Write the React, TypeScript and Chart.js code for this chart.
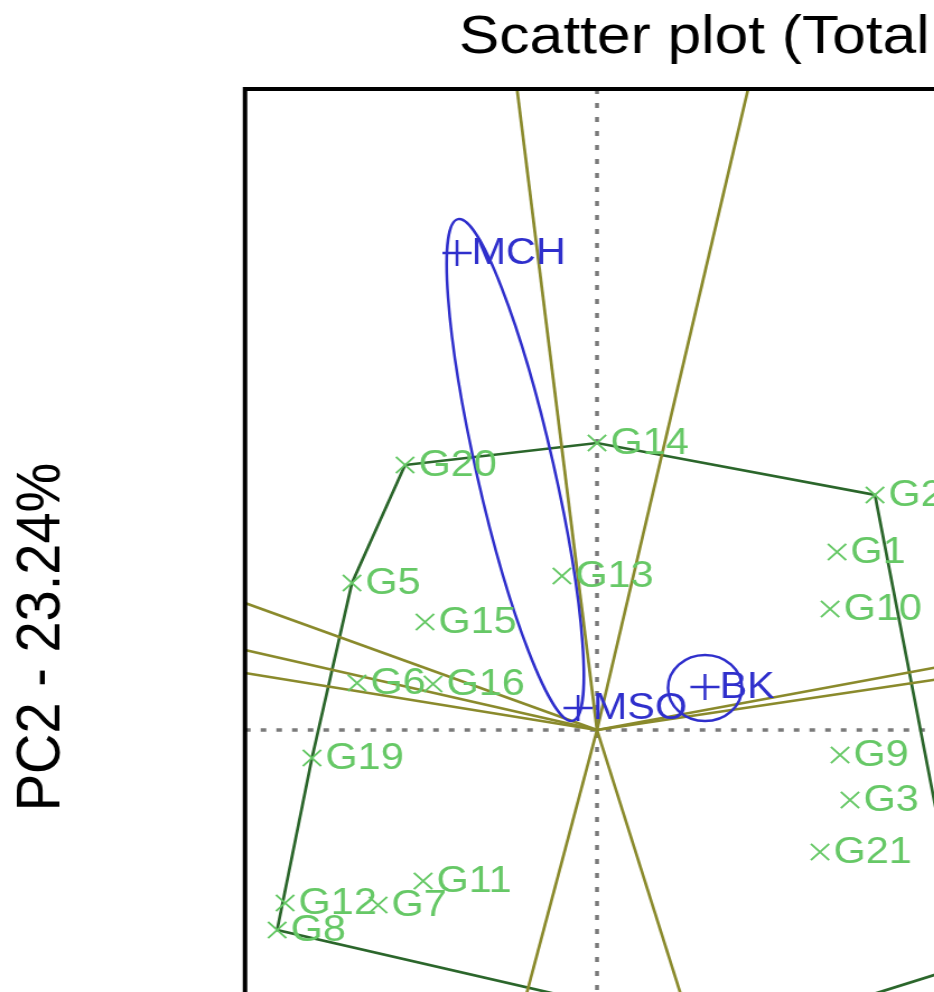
import React, { useEffect, useRef } from "react";
import { Chart, registerables } from "chart.js";

Chart.register(...registerables);

// ---------- data (biplot scores) ----------
const TITLE = "Scatter plot (Total - 77.23%)";
const Y_TITLE = "PC2 - 23.24%";

const X_MIN = -3.143;
const X_MAX = 9.56;
const Y_MIN = -4.55;
const Y_MAX = 6.41;

const GENOTYPES = ["G1", "G2", "G3", "G4", "G5", "G6", "G7", "G8", "G9", "G10", "G11", "G12", "G13", "G14", "G15", "G16", "G18", "G19", "G20", "G21"];
const GEN_PC1 = [2.143, 2.482, 2.259, 3.295, -2.188, -2.143, -1.955, -2.856, 2.17, 2.081, -1.553, -2.785, -0.313, 0.0, -1.536, -1.464, 1.268, -2.545, -1.714, 1.991];
const GEN_PC2 = [1.78, 2.35, -0.7, -2.35, 1.47, 0.47, -1.75, -2.0, -0.25, 1.21, -1.51, -1.73, 1.54, 2.87, 1.08, 0.46, -3.06, -0.28, 2.65, -1.22];

const ENVIRONMENTS = ["MCH", "MSO", "BK"];
const ENV_PC1 = [-1.25, -0.169, 0.964];
const ENV_PC2 = [4.77, 0.22, 0.43];

// ellipses around environments: centre, semi-axes, angle (deg)
const ELL_CX = [-0.73, 0.964];
const ELL_CY = [2.6, 0.42];
const ELL_A = [2.56, 0.33];
const ELL_B = [0.345, 0.33];
const ELL_ANGLE = [-78.5, 0];

// polygon (convex hull) vertices, by genotype
const HULL = ["G20", "G14", "G2", "G4", "G18", "G8", "G19", "G5"];

// rays from origin perpendicular to hull sides (end points)
const RAY_X = [-0.714, 1.349, -3.143, -3.143, -3.143, 6.0, 6.0, -1.085, 1.287];
const RAY_Y = [6.41, 6.41, 1.27, 0.8, 0.57, 1.24, 1.0, -4.55, -4.55];

// ---------- styles ----------
const FONT = "'Liberation Sans', Arial, Helvetica, sans-serif";
const GEN_COLOR = "#66c866";
const ENV_COLOR = "#2f2fcc";
const HULL_COLOR = "#2b662b";
const RAY_COLOR = "#8a8a2c";
const AXIS_COLOR = "#7a7a7a";

export default function App() {
  const ref = useRef<HTMLCanvasElement | null>(null);

  useEffect(() => {
    const canvas = ref.current;
    if (!canvas) return;

    const genPts = GENOTYPES.map((_, i) => ({ x: GEN_PC1[i], y: GEN_PC2[i] }));
    const envPts = ENVIRONMENTS.map((_, i) => ({ x: ENV_PC1[i], y: ENV_PC2[i] }));
    const hullPts = [...HULL, HULL[0]].map((g) => {
      const i = GENOTYPES.indexOf(g);
      return { x: GEN_PC1[i], y: GEN_PC2[i] };
    });

    const rayDatasets = RAY_X.map((x, i) => ({
      type: "scatter" as const,
      data: [{ x: 0, y: 0 }, { x, y: RAY_Y[i] }],
      showLine: true,
      borderColor: RAY_COLOR,
      borderWidth: 2.7,
      pointRadius: 0,
    }));

    const labelPlugin = {
      id: "labelsAndEllipses",
      afterDatasetsDraw(chart: any) {
        const { ctx, chartArea, scales } = chart;
        const xs = scales.x;
        const ys = scales.y;
        ctx.save();
        ctx.beginPath();
        ctx.rect(chartArea.left, chartArea.top, chartArea.right - chartArea.left, chartArea.bottom - chartArea.top);
        ctx.clip();
        // ellipses
        ctx.strokeStyle = ENV_COLOR;
        ctx.lineWidth = 2.5;
        ELL_CX.forEach((cx, i) => {
          const px = xs.getPixelForValue(cx);
          const py = ys.getPixelForValue(ELL_CY[i]);
          const ra = Math.abs(xs.getPixelForValue(cx + ELL_A[i]) - px);
          const rb = Math.abs(xs.getPixelForValue(cx + ELL_B[i]) - px);
          ctx.beginPath();
          ctx.ellipse(px, py, ra, rb, (-ELL_ANGLE[i] * Math.PI) / 180, 0, Math.PI * 2);
          ctx.stroke();
        });
        // labels
        ctx.textAlign = "left";
        ctx.textBaseline = "middle";
        ctx.font = `37px ${FONT}`;
        ctx.fillStyle = GEN_COLOR;
        GENOTYPES.forEach((g, i) => {
          ctx.fillText(g, xs.getPixelForValue(GEN_PC1[i]) + 12, ys.getPixelForValue(GEN_PC2[i]) + 1);
        });
        ctx.fillStyle = ENV_COLOR;
        ENVIRONMENTS.forEach((e, i) => {
          ctx.fillText(e, xs.getPixelForValue(ENV_PC1[i]) + 13, ys.getPixelForValue(ENV_PC2[i]) + 1);
        });
        ctx.restore();
      },
      afterDraw(chart: any) {
        const { ctx, chartArea } = chart;
        ctx.save();
        ctx.strokeStyle = "#000";
        ctx.lineWidth = 4;
        ctx.strokeRect(chartArea.left, chartArea.top, chartArea.right - chartArea.left, chartArea.bottom - chartArea.top);
        ctx.restore();
      },
    };

    const chart = new Chart(canvas, {
      type: "scatter",
      data: {
        datasets: [
          {
            data: envPts,
            pointStyle: "cross",
            pointRadius: 13,
            pointBorderWidth: 2.5,
            borderColor: ENV_COLOR,
            backgroundColor: ENV_COLOR,
          } as any,
          {
            data: genPts,
            pointStyle: "crossRot",
            pointRadius: 11.5,
            pointBorderWidth: 2,
            borderColor: GEN_COLOR,
            backgroundColor: GEN_COLOR,
          } as any,
          ...rayDatasets,
          {
            data: hullPts,
            showLine: true,
            borderColor: HULL_COLOR,
            borderWidth: 2.7,
            pointRadius: 0,
          },
          {
            data: [{ x: X_MIN, y: 0 }, { x: X_MAX, y: 0 }],
            showLine: true,
            borderColor: AXIS_COLOR,
            borderWidth: 3.5,
            borderDash: [5, 9],
            pointRadius: 0,
          },
          {
            data: [{ x: 0, y: Y_MAX }, { x: 0, y: Y_MIN }],
            showLine: true,
            borderColor: AXIS_COLOR,
            borderWidth: 3.5,
            borderDash: [5, 9],
            pointRadius: 0,
          },
        ],
      },
      options: {
        responsive: false,
        animation: false,
        devicePixelRatio: 1,
        layout: { padding: 0, autoPadding: false },
        plugins: {
          legend: { display: false },
          tooltip: { enabled: false },
          title: {
            display: true,
            text: TITLE,
            color: "#000",
            font: { family: FONT, size: 54, weight: "normal" },
            padding: { top: 5.6, bottom: 18.6 },
          },
        },
        scales: {
          x: { type: "linear", min: X_MIN, max: X_MAX, display: false },
          y: {
            type: "linear",
            min: Y_MIN,
            max: Y_MAX,
            position: "left",
            grid: { display: false },
            ticks: { display: false },
            border: { display: false },
            title: {
              display: true,
              text: Y_TITLE,
              color: "#000",
              font: { family: FONT, size: 56, weight: "normal" },
              padding: { top: 4, bottom: 0 },
            },
            afterFit: (s: any) => {
              s.width = 218.75;
            },
          },
        },
      },
      plugins: [labelPlugin],
    } as any);

    return () => chart.destroy();
  }, []);

  return (
    <div
      style={{
        position: "fixed",
        left: 0,
        top: 0,
        width: 934,
        height: 992,
        overflow: "hidden",
        background: "#fff",
      }}
    >
      <div style={{ transform: "scaleX(1.12)", transformOrigin: "0 0", width: 1489, height: 1185 }}>
        <canvas ref={ref} width={1489} height={1185} style={{ display: "block" }} />
      </div>
    </div>
  );
}
